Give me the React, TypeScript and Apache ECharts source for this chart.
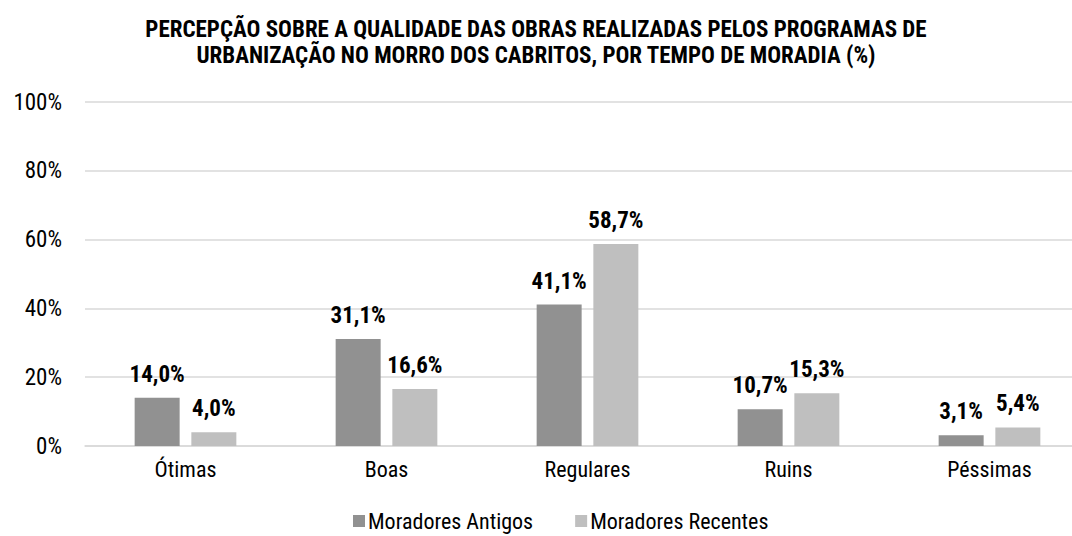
import React, { useEffect, useRef } from "react";
import * as echarts from "echarts";

const titleText =
  "PERCEPÇÃO SOBRE A QUALIDADE DAS OBRAS REALIZADAS PELOS PROGRAMAS DE\nURBANIZAÇÃO NO MORRO DOS CABRITOS, POR TEMPO DE MORADIA (%)";
const categories = ["Ótimas", "Boas", "Regulares", "Ruins", "Péssimas"];
const antigos = [14.0, 31.1, 41.1, 10.7, 3.1];
const recentes = [4.0, 16.6, 58.7, 15.3, 5.4];
const seriesNames = ["Moradores Antigos", "Moradores Recentes"];

const FONT = '"Liberation Sans Narrow", "Roboto Condensed", "DejaVu Sans Condensed", sans-serif';

const fmt = (v: number) => v.toFixed(1).replace(".", ",") + "%";

export default function App() {
  const ref = useRef<HTMLDivElement>(null);
  useEffect(() => {
    if (!ref.current) return;
    const chart = echarts.init(ref.current, undefined, { renderer: "svg" });
    const label = {
      show: true,
      position: "top",
      distance: 12,
      fontFamily: FONT,
      fontWeight: "bold",
      fontSize: 23,
      color: "#000",
      formatter: (p: any) => fmt(p.value),
    };
    chart.setOption({
      animation: false,
      backgroundColor: "#fff",
      textStyle: { fontFamily: FONT },
      title: {
        text: titleText,
        left: "center",
        top: 11,
        textStyle: {
          fontFamily: FONT,
          fontWeight: "bold",
          fontSize: 23,
          lineHeight: 26,
          color: "#000",
        },
      },
      legend: {
        data: seriesNames,
        bottom: -1,
        left: 348,
        icon: "rect",
        itemWidth: 12,
        itemHeight: 12,
        itemGap: 42,
        textStyle: { fontFamily: FONT, fontSize: 22, color: "#000", padding: [0, 0, 0, -2] },
      },
      grid: { left: 85, top: 102, bottom: 90, width: 1005, outerBoundsMode: "none" },
      xAxis: {
        type: "category",
        data: categories,
        axisLine: { show: true, lineStyle: { color: "#d9d9d9", width: 1.5 } },
        axisTick: { show: false },
        axisLabel: { fontFamily: FONT, fontSize: 22, color: "#000", margin: 12 },
      },
      yAxis: {
        type: "value",
        min: 0,
        max: 100,
        interval: 20,
        axisLine: { show: false },
        axisTick: { show: false },
        splitLine: { lineStyle: { color: "#d9d9d9", width: 1.5 } },
        axisLabel: {
          formatter: "{value}%",
          fontFamily: FONT,
          fontSize: 23,
          color: "#000",
          margin: 23,
        },
      },
      series: [
        {
          name: seriesNames[0],
          type: "bar",
          data: antigos,
          barWidth: 45,
          barGap: "26%",
          itemStyle: { color: "#919191" },
          label,
        },
        {
          name: seriesNames[1],
          type: "bar",
          data: recentes,
          barWidth: 45,
          barGap: "26%",
          itemStyle: { color: "#bfbfbf" },
          label,
        },
      ],
    });
    return () => chart.dispose();
  }, []);
  return (
    <div
      ref={ref}
      style={{ position: "fixed", left: 0, top: 0, width: 1072, height: 536, overflow: "hidden" }}
    />
  );
}
